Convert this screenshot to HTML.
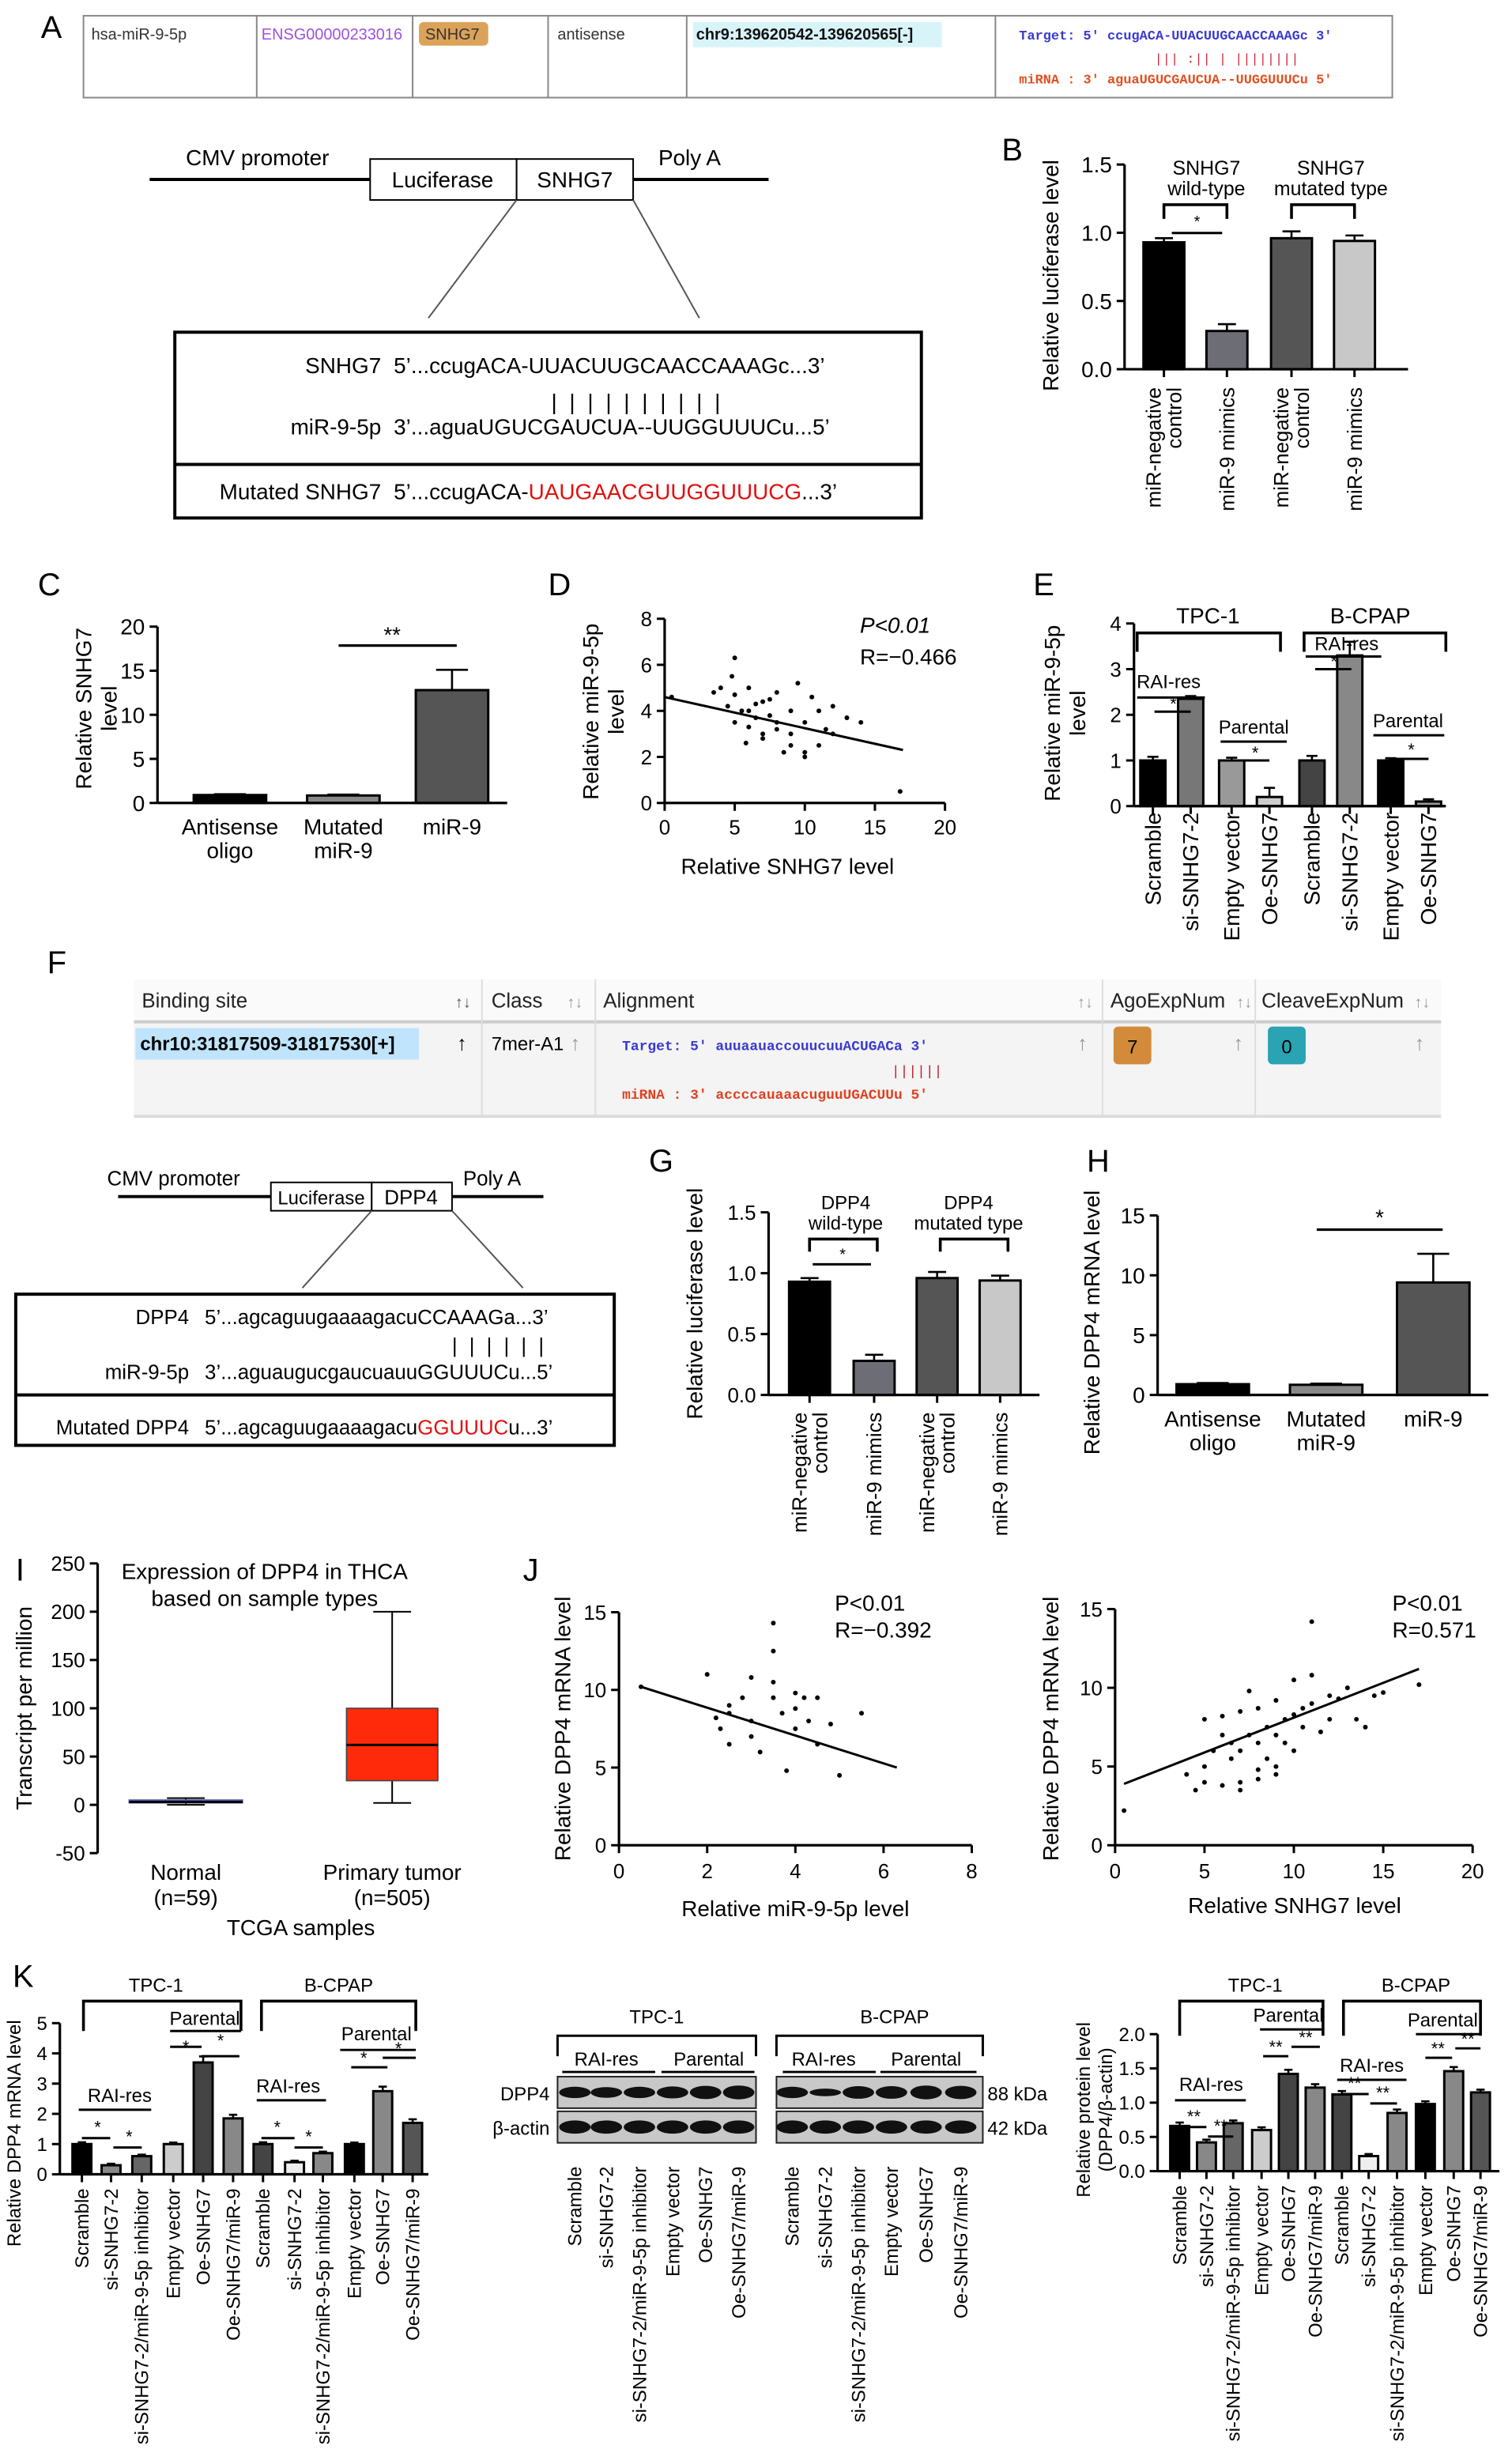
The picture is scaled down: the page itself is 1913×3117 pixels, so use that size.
<!DOCTYPE html>
<html><head><meta charset="utf-8"><style>
html,body{margin:0;padding:0;background:#fff;}
svg{display:block;font-family:"Liberation Sans",sans-serif;}
</style></head><body>
<svg id="fig" width="1913" height="3117" viewBox="0 0 960 1565" preserveAspectRatio="none" xmlns="http://www.w3.org/2000/svg">
<rect x="0" y="0" width="960" height="1565" fill="#fff"/>
<g font-size="20" fill="#000">
<text x="26" y="24">A</text><text x="636" y="102">B</text><text x="24" y="378">C</text>
<text x="348" y="378">D</text><text x="656" y="378">E</text><text x="30" y="618">F</text>
<text x="412" y="744">G</text><text x="690" y="744">H</text><text x="10" y="1004">I</text>
<text x="332" y="1004">J</text><text x="8" y="1262">K</text></g>

<g font-size="10">
<rect x="53" y="10" width="831" height="52" fill="#fff" stroke="#888" stroke-width="1"/>
<g stroke="#888"><line x1="163" y1="10" x2="163" y2="62"/><line x1="262" y1="10" x2="262" y2="62"/><line x1="348" y1="10" x2="348" y2="62"/><line x1="436" y1="10" x2="436" y2="62"/><line x1="632" y1="10" x2="632" y2="62"/></g>
<text x="58" y="25" fill="#333">hsa-miR-9-5p</text>
<text x="166" y="25" fill="#a050e0">ENSG00000233016</text>
<rect x="266" y="14" width="44" height="15" rx="3" fill="#dba25a"/><text x="270" y="25" fill="#333">SNHG7</text>
<text x="354" y="25" fill="#333">antisense</text>
<rect x="440" y="14" width="158" height="16" fill="#d8f4f8"/><text x="442" y="25" fill="#111" font-weight="bold">chr9:139620542-139620565[-]</text>
<text x="647" y="25" fill="#3a3ad0" font-family="Liberation Mono,monospace" font-size="8.5" font-weight="bold">Target: 5' ccugACA-UUACUUGCAACCAAAGc 3'</text>
<text x="733" y="40" fill="#d03040" font-family="Liberation Mono,monospace" font-size="8.5">||| :|| | ||||||||</text>
<text x="647" y="53" fill="#e05020" font-family="Liberation Mono,monospace" font-size="8.5" font-weight="bold">miRNA : 3' aguaUGUCGAUCUA--UUGGUUUCu 5'</text>
</g>

<g font-size="14">
<line x1="95" y1="114" x2="488" y2="114" stroke="#000" stroke-width="2"/>
<rect x="235" y="101" width="93" height="26" fill="#fff" stroke="#000"/><rect x="328" y="101" width="74" height="26" fill="#fff" stroke="#000"/>
<text x="281" y="119" text-anchor="middle">Luciferase</text><text x="365" y="119" text-anchor="middle">SNHG7</text>
<text x="118" y="105">CMV promoter</text><text x="418" y="105">Poly A</text>
<line x1="328" y1="127" x2="272" y2="202" stroke="#555"/><line x1="402" y1="127" x2="444" y2="202" stroke="#555"/>
<rect x="111" y="211" width="474" height="118" fill="#fff" stroke="#000" stroke-width="2"/>
<line x1="111" y1="295" x2="585" y2="295" stroke="#000" stroke-width="2"/>
<text x="242" y="237" text-anchor="end">SNHG7</text><text x="250" y="237">5’...ccugACA-UUACUUGCAACCAAAGc...3’</text>
<text x="350" y="260" letter-spacing="2">| | | | | |   | | | |</text>
<text x="242" y="276" text-anchor="end">miR-9-5p</text><text x="250" y="276">3’...aguaUGUCGAUCUA--UUGGUUUCu...5’</text>
<text x="242" y="317" text-anchor="end">Mutated SNHG7</text><text x="250" y="317">5’...ccugACA-<tspan fill="#e01010">UAUGAACGUUGGUUUCG</tspan>...3’</text>
</g>

<g font-size="13">
<rect x="85" y="622" width="830" height="26" fill="#fafafa"/>
<rect x="85" y="649" width="830" height="60" fill="#f4f4f4"/>
<line x1="85" y1="649" x2="915" y2="649" stroke="#ccc" stroke-width="2"/><line x1="85" y1="709" x2="915" y2="709" stroke="#ddd" stroke-width="2"/>
<g stroke="#ddd"><line x1="306" y1="622" x2="306" y2="709"/><line x1="378" y1="622" x2="378" y2="709"/><line x1="700" y1="622" x2="700" y2="709"/><line x1="797" y1="622" x2="797" y2="709"/></g>
<text x="90" y="640" fill="#222">Binding site</text><text x="289" y="640" fill="#555" font-size="10">↑↓</text>
<text x="312" y="640" fill="#222">Class</text><text x="360" y="640" fill="#999" font-size="10">↑↓</text>
<text x="383" y="640" fill="#222">Alignment</text><text x="684" y="640" fill="#999" font-size="10">↑↓</text>
<text x="705" y="640" fill="#222">AgoExpNum</text><text x="785" y="640" fill="#999" font-size="10">↑↓</text>
<text x="801" y="640" fill="#222">CleaveExpNum</text><text x="898" y="640" fill="#999" font-size="10">↑↓</text>
<rect x="86" y="653" width="180" height="20" fill="#bfe4fb"/><text x="89" y="667" font-weight="bold" font-size="12">chr10:31817509-31817530[+]</text>
<text x="290" y="667">↑</text><text x="312" y="667" font-size="12">7mer-A1</text><text x="362" y="667" fill="#999">↑</text>
<text x="395" y="667" fill="#3a3ad0" font-family="Liberation Mono,monospace" font-size="9" font-weight="bold">Target: 5' auuaauaccouucuuACUGACa 3'</text>
<text x="566" y="683" fill="#c02030" font-family="Liberation Mono,monospace" font-size="9">||||||</text>
<text x="395" y="698" fill="#e04020" font-family="Liberation Mono,monospace" font-size="9" font-weight="bold">miRNA : 3' accccauaaacuguuUGACUUu 5'</text>
<text x="684" y="667" fill="#999">↑</text>
<rect x="707" y="652" width="24" height="24" rx="3" fill="#d38a3b"/><text x="719" y="669" text-anchor="middle" font-size="12">7</text><text x="783" y="667" fill="#999">↑</text>
<rect x="805" y="652" width="24" height="24" rx="3" fill="#2aa3b3"/><text x="817" y="669" text-anchor="middle" font-size="12">0</text><text x="898" y="667" fill="#999">↑</text>
</g>

<g font-size="13">
<line x1="75" y1="760" x2="345" y2="760" stroke="#000" stroke-width="2"/>
<rect x="172" y="751" width="64" height="18" fill="#fff" stroke="#000"/><rect x="236" y="751" width="51" height="18" fill="#fff" stroke="#000"/>
<text x="204" y="765" text-anchor="middle" font-size="12">Luciferase</text><text x="261" y="765" text-anchor="middle">DPP4</text>
<text x="68" y="753">CMV promoter</text><text x="294" y="753">Poly A</text>
<line x1="236" y1="769" x2="192" y2="818" stroke="#555"/><line x1="287" y1="769" x2="332" y2="818" stroke="#555"/>
<rect x="10" y="822" width="380" height="96" fill="#fff" stroke="#000" stroke-width="2"/>
<line x1="10" y1="886" x2="390" y2="886" stroke="#000" stroke-width="2"/>
<text x="120" y="841" text-anchor="end">DPP4</text><text x="130" y="841">5’...agcaguugaaaagacuCCAAAGa...3’</text>
<text x="287" y="859" letter-spacing="2">| | | | | |</text>
<text x="120" y="876" text-anchor="end">miR-9-5p</text><text x="130" y="876">3’...aguaugucgaucuauuGGUUUCu...5’</text>
<text x="120" y="911" text-anchor="end">Mutated DPP4</text><text x="130" y="911">5’...agcaguugaaaagacu<tspan fill="#e01010">GGUUUC</tspan>u...3’</text>
</g>

<g font-size="12">
<text x="417" y="1285" text-anchor="middle">TPC-1</text><text x="568" y="1285" text-anchor="middle">B-CPAP</text>
<path d="M354 1306 V1293 H480 V1306 M493 1306 V1293 H624 V1306" fill="none" stroke="#000" stroke-width="1.5"/>
<text x="385" y="1312" text-anchor="middle">RAI-res</text><text x="450" y="1312" text-anchor="middle">Parental</text>
<text x="523" y="1312" text-anchor="middle">RAI-res</text><text x="588" y="1312" text-anchor="middle">Parental</text>
<g stroke="#000" stroke-width="1.5"><line x1="357" y1="1316" x2="416" y2="1316"/><line x1="420" y1="1316" x2="479" y2="1316"/><line x1="497" y1="1316" x2="556" y2="1316"/><line x1="559" y1="1316" x2="620" y2="1316"/></g>
<text x="349" y="1334" text-anchor="end">DPP4</text><text x="349" y="1356" text-anchor="end">β-actin</text>
<text x="627" y="1334">88 kDa</text><text x="627" y="1356">42 kDa</text>
<rect x="354" y="1319" width="126" height="20" fill="#c8c8c8" stroke="#222"/><rect x="493" y="1319" width="131" height="20" fill="#c8c8c8" stroke="#222"/>
<rect x="354" y="1341" width="126" height="20" fill="#c8c8c8" stroke="#222"/><rect x="493" y="1341" width="131" height="20" fill="#c8c8c8" stroke="#222"/>
<g id="bands"></g>
</g>
<g id="charts"></g>
</svg>
<script>
const bCats = ["miR-negative control","miR-9 mimics","miR-negative control","miR-9 mimics"];
const bVals = [0.93, 0.28, 0.96, 0.94];
const bErr = [0.03, 0.05, 0.05, 0.04];
const bTicks = [0, 0.5, 1.0, 1.5];

const cCats = ["Antisense oligo","Mutated miR-9","miR-9"];
const cVals = [0.9, 0.85, 12.8];
const cErr = [0.1, 0.1, 2.3];
const cTicks = [0, 5, 10, 15, 20];

const dX = [0.5,3.5,4,4.5,5,5,5,5.5,6,6,6,6.5,6.5,7,7,7,7.5,7.5,8,8,8,8.5,9,9,9,9.5,10,10,10,10.5,11,11,11.5,12,12,13,14,16.8,4.8,5.8];
const dY = [4.6,4.8,5,4.2,6.3,4.7,3.5,4,5,4,3.3,4.3,3.7,4.4,3,2.8,3.8,4.5,3.5,3.2,4.8,2.2,3,2.5,4,5.2,3.5,2.2,2,4.6,4,2.5,3.2,3,4.2,3.7,3.5,0.5,5.5,2.6];
const dTicksX = [0,5,10,15,20];
const dTicksY = [0,2,4,6,8];
const dFit = [0.0, 4.6, 17, 2.3];

const eCats = ["Scramble","si-SNHG7-2","Empty vector","Oe-SNHG7","Scramble","si-SNHG7-2","Empty vector","Oe-SNHG7"];
const eVals = [1.0, 2.35, 1.0, 0.2, 1.0, 3.3, 1.0, 0.1];
const eErr = [0.08, 0.06, 0.06, 0.2, 0.1, 0.3, 0.05, 0.05];
const eTicks = [0,1,2,3,4];

const gVals = [0.93, 0.28, 0.96, 0.94];
const gErr = [0.03, 0.05, 0.05, 0.04];

const hCats = ["Antisense oligo","Mutated miR-9","miR-9"];
const hVals = [0.9, 0.85, 9.4];
const hErr = [0.1, 0.1, 2.4];
const hTicks = [0,5,10,15];

const iCats = ["Normal","Primary tumor"];
const iN = ["(n=59)","(n=505)"];
const iMin = [0, 2]; const iQ1 = [2, 25]; const iMed = [3, 62]; const iQ3 = [5, 100]; const iMax = [7, 200];
const iTicks = [-50,0,50,100,150,200,250];

const jlX = [0.5,2,2.5,2.5,3,3,2.5,3.5,3.5,3.5,3.5,4,4,4,4.2,4.5,4.5,5,5.5,3.2,3.8,2.8,3,4.3,2.3,3.7,4.8,2.2];
const jlY = [10.2,11,9,8.5,8,7,6.5,14.3,12.5,10.5,9.5,9.8,8.8,7.5,9.5,9.5,6.5,4.5,8.5,6,4.8,9.5,10.8,8,7.5,8.5,7.8,8.2];
const jlFit = [0.5, 10.2, 6.3, 5.0];
const jlTicksX = [0,2,4,6,8];
const jTicksY = [0,5,10,15];

const jrX = [0.5,4,4.5,5,5,5.5,6,6,6.5,6.5,7,7,7,7.5,7.5,8,8,8,8.5,8.5,9,9,9,9.5,9.5,10,10,10,10.5,10.5,11,11,11,11.5,12,12,12.5,13,13.5,14,14.5,15,17,5,6,7,8,9];
const jrY = [2.2,4.5,3.5,5,8,6,7,8.2,6.5,5.5,8.5,6,4,9.8,7,8.7,6.5,4.8,7.5,5.5,9.2,7,4.5,8,6.5,10.5,8.3,6,8.7,7.5,14.2,10.8,9,7.2,8,9.5,9.3,10,8,7.5,9.5,9.7,10.2,4,3.8,3.5,4.2,5];
const jrFit = [0.5, 3.9, 17, 11.2];
const jrTicksX = [0,5,10,15,20];

const kCats = ["Scramble","si-SNHG7-2","si-SNHG7-2/miR-9-5p inhibitor","Empty vector","Oe-SNHG7","Oe-SNHG7/miR-9","Scramble","si-SNHG7-2","si-SNHG7-2/miR-9-5p inhibitor","Empty vector","Oe-SNHG7","Oe-SNHG7/miR-9"];
const kmVals = [1.0,0.3,0.6,1.0,3.7,1.85,1.0,0.4,0.7,1.0,2.75,1.7];
const kmErr = [0.06,0.05,0.05,0.05,0.2,0.12,0.06,0.05,0.05,0.05,0.15,0.12];
const kmTicks = [0,1,2,3,4,5];
const kpVals = [0.66,0.42,0.70,0.60,1.42,1.22,1.12,0.22,0.85,0.98,1.46,1.15];
const kpErr = [0.05,0.04,0.04,0.04,0.06,0.05,0.05,0.03,0.05,0.04,0.06,0.04];
const kpTicks = [0,0.5,1.0,1.5,2.0];
const dppBand = [0.9,0.85,0.9,0.95,1.05,1.1,0.9,0.6,1.0,1.0,1.1,1.05];

const NS = "http://www.w3.org/2000/svg";
const root = document.getElementById("charts");
function mk(tag, attrs, parent){ const e=document.createElementNS(NS,tag); for(const k in attrs) e.setAttribute(k,attrs[k]); (parent||root).appendChild(e); return e; }
function txt(x,y,s,size,anchor,rot,fill){ const t=mk("text",{x:x,y:y,"font-size":size,"text-anchor":anchor||"middle",fill:fill||"#000"}); if(rot) t.setAttribute("transform","rotate(-90 "+x+" "+y+")"); t.textContent=s; return t; }
function linScale(d0,d1,r0,r1){ return v => r0 + (v-d0)*(r1-r0)/(d1-d0); }

function yAxis(x, y, ticks, fs, fmt){
  const l = mk("line",{x1:x,y1:y(ticks[ticks.length-1]),x2:x,y2:y(ticks[0]),stroke:"#000","stroke-width":1.6});
  
  
  ticks.forEach(v=>{
    mk("line",{x1:x-5,y1:y(v),x2:x,y2:y(v),stroke:"#000","stroke-width":1.5});
    const t = txt(x-8,y(v)+fs*0.36,fmt?fmt(v):String(v),fs,"end");
    
    
  });
}
function bars(xs, y, vals, errs, w, colors, baseY, name){
  vals.forEach((v,i)=>{
    const top=y(v);
    const r = mk("rect",{x:xs[i]-w/2,y:top,width:w,height:baseY-top,fill:colors[i],stroke:"#000","stroke-width":1.5});
    
    
    const et=y(v+errs[i]);
    mk("line",{x1:xs[i],y1:et,x2:xs[i],y2:top,stroke:"#000","stroke-width":1.3});
    mk("line",{x1:xs[i]-w*0.22,y1:et,x2:xs[i]+w*0.22,y2:et,stroke:"#000","stroke-width":1.3});
  });
}
function xAxisLine(x0,x1,yb,xs){
  const l = mk("line",{x1:x0,y1:yb,x2:x1,y2:yb,stroke:"#000","stroke-width":1.6});
  
  
  (xs||[]).forEach(x=>mk("line",{x1:x,y1:yb,x2:x,y2:yb+5,stroke:"#000","stroke-width":1.5}));
}
function rotLabels(xs, top, labels, fs){
  labels.forEach((s,i)=>{
    const parts = s.split("|");
    parts.forEach((p,j)=>{
      const xx = xs[i] + fs*0.35 + (j-(parts.length-1)/2)*fs*1.0;
      const t = txt(xx, top, p, fs, "end", true);
      
      
    });
  });
}
function line(x1,y1,x2,y2,w){ return mk("line",{x1:x1,y1:y1,x2:x2,y2:y2,stroke:"#000","stroke-width":w||1.5}); }
function bracket(x1,x2,y,h,w){ mk("path",{d:"M"+x1+" "+(y+h)+" V"+y+" H"+x2+" V"+(y+h),fill:"none",stroke:"#000","stroke-width":w||1.8}); }
function scatter(xs,ys,sx,sy,fit,name){
  xs.forEach((v,i)=>{
    const c = mk("circle",{cx:sx(v),cy:sy(ys[i]),r:1.5,fill:"#000"});
    
    
  });
  const fl = line(sx(fit[0]),sy(fit[1]),sx(fit[2]),sy(fit[3]),1.5);
  
  
}

(function(){
  const y = linScale(0,1.5,234.5,104.5);
  const xs = [739,779,820,860];
  yAxis(714,y,bTicks,14,v=>v.toFixed(1));
  bars(xs,y,bVals,bErr,26,["#000","#6d6d75","#555","#c8c8c8"],234.5,"b");
  xAxisLine(714,894,234.5,xs);
  rotLabels(xs,246,["miR-negative|control","miR-9 mimics","miR-negative|control","miR-9 mimics"],13);
  txt(672,175,"Relative luciferase level",14,"middle",true);
  txt(766,111,"SNHG7",12.5); txt(766,124,"wild-type",12.5);
  txt(845,111,"SNHG7",12.5); txt(845,124,"mutated type",12.5);
  bracket(739,779,130,9); bracket(820,860,130,9);
  line(744,148,776,148,1.5); txt(760,144,"*",10);
})();
(function(){
  const y = linScale(0,20,510,398);
  const xs = [146,218,287];
  yAxis(100,y,cTicks,14);
  bars(xs,y,cVals,cErr,46,["#000","#888","#555"],510,"c");
  xAxisLine(100,322,510,[]);
  ["Antisense|oligo","Mutated|miR-9","miR-9"].forEach((s,i)=>{ s.split("|").forEach((p,j)=>txt(xs[i],530+j*15,p,14)); });
  txt(58,450,"Relative SNHG7",14,"middle",true); txt(74,450,"level",14,"middle",true);
  line(215,410,290,410,1.6); txt(249,408,"**",14);
})();
(function(){
  const sx = linScale(0,20,422,600), sy = linScale(0,8,510,393);
  yAxis(422,sy,dTicksY,13);
  xAxisLine(422,600,510,[]);
  dTicksX.forEach(v=>{ line(sx(v),510,sx(v),515,1.5); txt(sx(v),530,String(v),13); });
  scatter(dX,dY,sx,sy,dFit,"d");
  txt(500,555,"Relative SNHG7 level",14);
  txt(380,452,"Relative miR-9-5p",14,"middle",true); txt(396,452,"level",14,"middle",true);
  const p=txt(546,402,"P<0.01",14,"start"); p.setAttribute("font-style","italic");
  txt(546,422,"R=−0.466",14,"start");
})();
(function(){
  const y = linScale(0,4,512,396);
  const xs = [732,756,782,806,833,857,883,907];
  yAxis(720,y,eTicks,13);
  bars(xs,y,eVals,eErr,16,["#000","#777","#999","#ccc","#444","#888","#000","#999"],512,"e");
  xAxisLine(720,918,512,xs);
  rotLabels(xs,516,eCats,14);
  txt(673,453,"Relative miR-9-5p",14,"middle",true); txt(689,453,"level",14,"middle",true);
  txt(767,396,"TPC-1",14); txt(870,396,"B-CPAP",14);
  bracket(722,813,402,12); bracket(828,918,402,12);
  txt(742,437,"RAI-res",12); line(722,443,765,443);
  line(733,452,756,452); txt(745,451,"*",11);
  txt(796,466,"Parental",12); line(775,471,817,471);
  line(784,483,806,483); txt(797,482,"*",11);
  txt(855,413,"RAI-res",12); line(829,417,877,417);
  line(835,425,858,425); txt(847,424,"*",11);
  txt(894,462,"Parental",12); line(872,467,917,467);
  line(882,482,907,482); txt(896,480,"*",11);
})();
(function(){
  const y = linScale(0,1.5,886,770);
  const xs = [514,555,595,635];
  yAxis(488,y,bTicks,13,v=>v.toFixed(1));
  bars(xs,y,gVals,gErr,26,["#000","#6d6d75","#555","#c8c8c8"],886,"g");
  xAxisLine(488,660,886,xs);
  rotLabels(xs,897,["miR-negative|control","miR-9 mimics","miR-negative|control","miR-9 mimics"],13);
  txt(446,828,"Relative luciferase level",14,"middle",true);
  txt(537,768,"DPP4",12); txt(537,781,"wild-type",12);
  txt(615,768,"DPP4",12); txt(615,781,"mutated type",12);
  bracket(514,557,787,8); bracket(597,640,787,8);
  line(516,803,553,803); txt(535,800,"*",10);
})();
(function(){
  const y = linScale(0,15,886,772);
  const xs = [770,842,910];
  yAxis(735,y,hTicks,14);
  bars(xs,y,hVals,hErr,46,["#000","#888","#555"],886,"h");
  xAxisLine(735,945,886,[]);
  ["Antisense|oligo","Mutated|miR-9","miR-9"].forEach((s,i)=>{ s.split("|").forEach((p,j)=>txt(xs[i],906+j*15,p,14)); });
  txt(698,840,"Relative DPP4 mRNA level",14,"middle",true);
  line(836,781,916,781,1.6); txt(876,778,"*",14);
})();
(function(){
  const y = linScale(-50,250,1177,993);
  const xs = [118,249];
  yAxis(62,y,iTicks,13);
  txt(20,1085,"Transcript per million",14,"middle",true);
  txt(168,1003,"Expression of DPP4 in THCA",14); txt(168,1020,"based on sample types",14);
  const cols=["#5555aa","#ff2a0a"];
  const widths=[72,58];
  xs.forEach((x,i)=>{
    line(x,y(iMin[i]),x,y(iMax[i]),1);
    line(x-12,y(iMax[i]),x+12,y(iMax[i]),1); line(x-12,y(iMin[i]),x+12,y(iMin[i]),1);
    const r = mk("rect",{x:x-widths[i]/2,y:y(iQ3[i]),width:widths[i],height:Math.max(1.5,y(iQ1[i])-y(iQ3[i])),fill:cols[i],stroke:i?"#444":"#5555aa","stroke-width":0.8});
    
    
    line(x-widths[i]/2,y(iMed[i]),x+widths[i]/2,y(iMed[i]),1.5);
    txt(x,1194,iCats[i],14); txt(x,1210,iN[i],14);
  });
  txt(191,1229,"TCGA samples",14);
})();
(function(){
  let sx = linScale(0,8,393,617), sy = linScale(0,15,1172,1024);
  yAxis(393,sy,jTicksY,13);
  xAxisLine(393,617,1172,[]);
  jlTicksX.forEach(v=>{ line(sx(v),1172,sx(v),1177,1.5); txt(sx(v),1193,String(v),13); });
  scatter(jlX,jlY,sx,sy,jlFit,"j-left");
  txt(505,1217,"Relative miR-9-5p level",14);
  txt(362,1098,"Relative DPP4 mRNA level",14,"middle",true);
  txt(530,1023,"P<0.01",14,"start"); txt(530,1040,"R=−0.392",14,"start");
  sx = linScale(0,20,708,935); sy = linScale(0,15,1172,1022);
  yAxis(708,sy,jTicksY,13);
  xAxisLine(708,935,1172,[]);
  jrTicksX.forEach(v=>{ line(sx(v),1172,sx(v),1177,1.5); txt(sx(v),1193,String(v),13); });
  scatter(jrX,jrY,sx,sy,jrFit,"j-right");
  txt(822,1215,"Relative SNHG7 level",14);
  txt(672,1098,"Relative DPP4 mRNA level",14,"middle",true);
  txt(884,1023,"P<0.01",14,"start"); txt(884,1040,"R=0.571",14,"start");
})();
(function(){
  const y = linScale(0,5,1381,1285);
  const xs = [52,70.5,90,110,129,148,167,187,205,225,243,262];
  yAxis(38,y,kmTicks,12);
  bars(xs,y,kmVals,kmErr,12,["#000","#888","#666","#ccc","#444","#888","#444","#eee","#888","#000","#888","#555"],1381,"k-mrna");
  xAxisLine(38,272,1381,xs);
  rotLabels(xs,1390,kCats,12);
  txt(13,1355,"Relative DPP4 mRNA level",12,"middle",true);
  txt(99,1265,"TPC-1",12); txt(215,1265,"B-CPAP",12);
  bracket(53,153,1271,19); bracket(166,264,1271,19);
  txt(130,1286,"Parental",12); line(108,1290,153,1290);
  line(108,1300,128,1300); line(128,1306,152,1306); txt(118,1304,"*",11); txt(140,1300,"*",11);
  txt(76,1335,"RAI-res",12); line(50,1340,96,1340);
  line(52,1358,70,1358); line(72,1364,90,1364); txt(62,1355,"*",11); txt(82,1361,"*",11);
  txt(239,1296,"Parental",12); line(216,1302,264,1302);
  line(223,1313,246,1313); line(243,1307,264,1307); txt(231,1311,"*",11); txt(253,1305,"*",11);
  txt(183,1329,"RAI-res",12); line(163,1334,207,1334);
  line(166,1358,187,1358); line(187,1364,205,1364); txt(176,1355,"*",11); txt(196,1361,"*",11);
})();
(function(){
  const bg = document.getElementById("bands");
  const xs = [365,385,406,427,448,469,503,524,545,566,588,610];
  xs.forEach((x,i)=>{
    const e1 = mk("ellipse",{cx:x,cy:1329,rx:10,ry:4*dppBand[i],fill:"#111"},bg);
    
    
    const e2 = mk("ellipse",{cx:x,cy:1351,rx:10,ry:4.2,fill:"#111"},bg);
    
    
  });
  rotLabels(xs,1376,kCats,12);
})();
(function(){
  const y = linScale(0,2,1379,1292);
  const xs = [749,766,783,801,818,835,852,869,887,905,923,940];
  yAxis(735,y,kpTicks,12,v=>v.toFixed(1));
  bars(xs,y,kpVals,kpErr,12,["#000","#888","#666","#ccc","#444","#888","#444","#eee","#888","#000","#888","#555"],1379,"k-protein");
  xAxisLine(735,952,1379,xs);
  rotLabels(xs,1388,kCats,12);
  txt(692,1340,"Relative protein level",12,"middle",true); txt(706,1340,"(DPP4/β-actin)",12,"middle",true);
  txt(797,1265,"TPC-1",12); txt(899,1265,"B-CPAP",12);
  bracket(749,840,1271,22); bracket(853,940,1271,22);
  txt(818,1284,"Parental",12); line(800,1289,840,1289);
  line(802,1306,818,1306); line(820,1300,838,1300); txt(810,1304,"**",11); txt(829,1298,"**",11);
  txt(769,1328,"RAI-res",12); line(746,1334,791,1334);
  line(750,1351,766,1351); line(767,1357,783,1357); txt(758,1348,"**",11); txt(775,1354,"**",11);
  txt(916,1287,"Parental",12); line(899,1292,940,1292);
  line(905,1307,922,1307); line(924,1301,940,1301); txt(913,1305,"**",11); txt(932,1299,"**",11);
  txt(871,1316,"RAI-res",12); line(849,1321,893,1321);
  line(852,1330,869,1330); line(870,1336,887,1336); txt(860,1327,"**",11); txt(878,1333,"**",11);
})();
</script>
</body></html>
